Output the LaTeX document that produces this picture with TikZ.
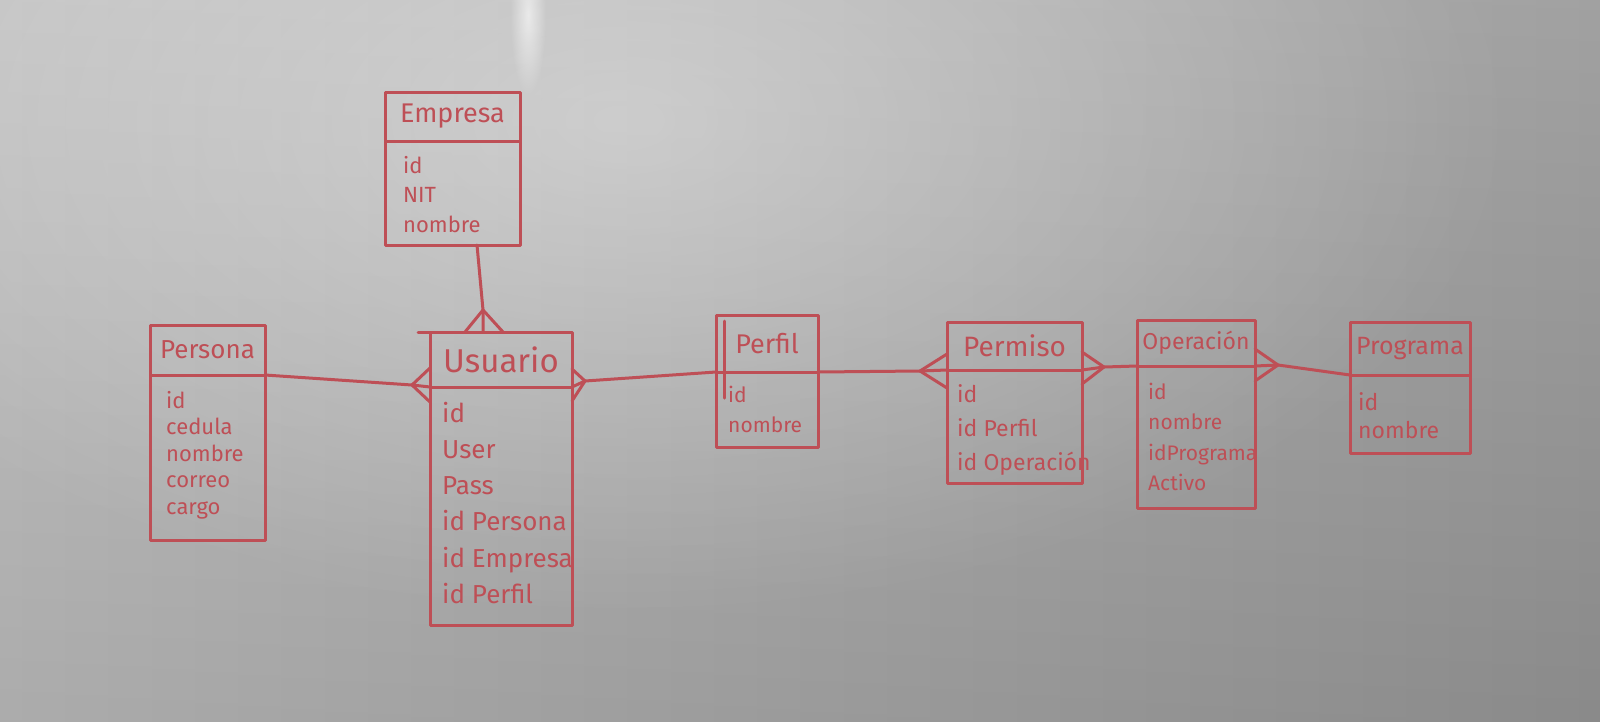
\documentclass[tikz,border=0pt]{standalone}
\usepackage{fontspec}
\setmainfont{Fira Sans}
\usetikzlibrary{calc,fadings}
\definecolor{ink}{HTML}{BE4F56}
\definecolor{bgL}{HTML}{BDBDBD}
\definecolor{bgM}{HTML}{C2C2C2}
\definecolor{bgR}{HTML}{989898}
\tikzfading[name=softglow, inner color=transparent!0, outer color=transparent!100]
\newcommand{\erbox}[8]{%
  \node[hdr, minimum width={#4-#2}, minimum height={#5-#3}, font=\fontsize{#8}{#8}\selectfont] (#1) at (#2,#3) {#7};
  \node[bodybox, minimum width={#4-#2}, minimum height={#6-#5}] (#1-b) at (#1.south west) {};
}
\newcommand{\erattrs}[6]{%
  \foreach \t [count=\i] in {#6} {\node[attr, font=\fontsize{#5}{#5}\selectfont] (#1-a\i) at ({#2}, {#3+(\i-1)*#4}) {\t};}
}
\begin{document}
\begin{tikzpicture}[x=1pt,y=-1pt, line cap=round, line join=round,
  inkline/.style={draw=ink, line width=3pt},
  hdr/.style={inkline, anchor=north west, inner sep=0pt, outer sep=0pt, text=ink},
  bodybox/.style={inkline, anchor=north west, inner sep=0pt, outer sep=0pt},
  attr/.style={text=ink, inner sep=0pt, anchor=base west}]
% background
\useasboundingbox (0,0) rectangle (1600,721);
\shade[left color=bgL, middle color=bgM, right color=bgR] (0,0) rectangle (1600,721);
\shade[top color=white, bottom color=black, opacity=0.09] (0,0) rectangle (1600,721);
\fill[white, opacity=0.35, path fading=softglow] (620,120) ellipse (900 and 500);
\fill[white, opacity=0.6, path fading=softglow] (528,15) ellipse (18 and 80);
% entities
\erbox{empresa}{385}{92}{520}{141}{245}{Empresa}{27}
\erattrs{empresa}{403}{173}{29.5}{22}{id,NIT,nombre}
\erbox{persona}{150}{325}{265}{375}{540}{Persona}{26}
\erattrs{persona}{166}{408}{26.5}{22}{id,cedula,nombre,correo,cargo}
\erbox{usuario}{430}{332}{572}{387}{625}{Usuario}{33}
\erattrs{usuario}{442}{422}{36.3}{26}{id,User,Pass,id Persona,id Empresa,id Perfil}
\erbox{perfil}{716}{315}{818}{372}{447}{Perfil}{27}
\erattrs{perfil}{728}{402}{30}{21}{id,nombre}
\erbox{permiso}{947}{322}{1082}{370}{483}{Permiso}{28}
\erattrs{permiso}{957}{402}{34}{23}{id,id Perfil,id Operación}
\erbox{operacion}{1137}{320}{1255}{366}{508}{Operación}{23}
\erattrs{operacion}{1148}{399}{30.5}{21}{id,nombre,idPrograma,Activo}
\erbox{programa}{1350}{322}{1470}{375}{453}{Programa}{25}
\erattrs{programa}{1358}{410}{28}{23}{id,nombre}
% extra strokes
\draw[inkline] ($(usuario.north west)+(-12,0)$) -- (usuario.north west);
\draw[inkline] ($(perfil.north west)+(8,6)$) -- ($(perfil.south west)+(8,26)$);
% Empresa - Usuario
\coordinate (f1) at (483,310);
\draw[inkline] ($(empresa-b.south west)+(92,0)$) -- (f1) -- (f1 |- usuario.north);
\draw[inkline] ($(usuario.north west)+(35,0)$) -- (f1) -- ($(usuario.north west)+(73,0)$);
% Persona - Usuario
\coordinate (f2) at (412,385);
\draw[inkline] (persona.south east) -- (f2) -- (usuario.south west);
\draw[inkline] ($(usuario.south west)+(0,-19)$) -- (f2) -- ($(usuario.south west)+(0,15)$);
% Usuario - Perfil
\coordinate (f3) at (585,381);
\draw[inkline] (usuario.south east) -- (f3) -- (perfil.south west);
\draw[inkline] ($(usuario.south east)+(0,-18)$) -- (f3) -- ($(usuario.south east)+(0,14)$);
% Perfil - Permiso
\coordinate (f4) at (920,371);
\draw[inkline] (perfil.south east) -- (f4) -- (permiso.south west);
\draw[inkline] ($(permiso.south west)+(0,-16)$) -- (f4) -- ($(permiso.south west)+(0,18)$);
% Permiso - Operacion
\coordinate (f5) at (1104,367);
\draw[inkline] (permiso.south east) -- (f5) -- (operacion.south west);
\draw[inkline] ($(permiso.south east)+(0,-18)$) -- (f5) -- ($(permiso.south east)+(0,14)$);
% Operacion - Programa
\coordinate (f6) at (1278,365);
\draw[inkline] (operacion.south east) -- (f6) -- (programa.south west);
\draw[inkline] ($(operacion.south east)+(0,-17)$) -- (f6) -- ($(operacion.south east)+(0,15)$);
\end{tikzpicture}
\end{document}
